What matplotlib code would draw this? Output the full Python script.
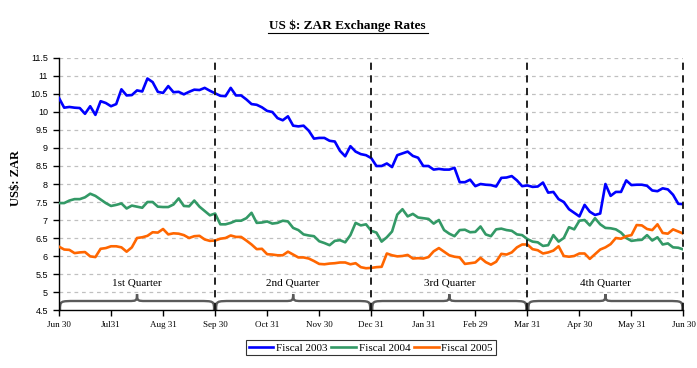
"""US $: ZAR exchange rates by fiscal year, one line per year, quarters braced."""
import matplotlib
matplotlib.use('Agg')
import matplotlib.pyplot as plt
import numpy as np
from matplotlib.path import Path
from matplotlib.patches import PathPatch

# Month tick labels along the fiscal year (Jun 30 .. Jun 30)
MONTH_LABELS = ['Jun 30', 'Jul31', 'Aug 31', 'Sep 30', 'Oct 31', 'Nov 30', 'Dec 31',
                'Jan 31', 'Feb 29', 'Mar 31', 'Apr 30', 'May 31', 'Jun 30']
QUARTER_LABELS = ['1st Quarter', '2nd Quarter', '3rd Quarter', '4th Quarter']
SERIES_NAMES = ['Fiscal 2003', 'Fiscal 2004', 'Fiscal 2005']

# Rates, 10 samples per month (121 points per year)
fiscal_2003 = [
    10.39, 10.12, 10.14, 10.12, 10.11, 9.95, 10.16, 9.92, 10.30, 10.25,
    10.16, 10.22, 10.63, 10.46, 10.47, 10.60, 10.57, 10.93, 10.83, 10.56,
    10.53, 10.72, 10.55, 10.56, 10.49, 10.56, 10.62, 10.61, 10.67, 10.59,
    10.52, 10.45, 10.44, 10.67, 10.46, 10.46, 10.35, 10.22, 10.20, 10.13,
    10.03, 10.00, 9.83, 9.77, 9.88, 9.62, 9.60, 9.62, 9.48, 9.26,
    9.28, 9.28, 9.20, 9.18, 8.92, 8.77, 9.05, 8.90, 8.83, 8.80,
    8.72, 8.50, 8.50, 8.57, 8.47, 8.80, 8.85, 8.90, 8.78, 8.73,
    8.50, 8.50, 8.40, 8.42, 8.40, 8.40, 8.45, 8.05, 8.05, 8.12,
    7.94, 8.00, 7.98, 7.97, 7.93, 8.17, 8.18, 8.22, 8.10, 7.94,
    7.96, 7.92, 7.93, 8.04, 7.76, 7.78, 7.58, 7.50, 7.30, 7.20,
    7.10, 7.42, 7.23, 7.14, 7.18, 8.00, 7.67, 7.78, 7.78, 8.10,
    7.97, 7.98, 7.98, 7.95, 7.82, 7.80, 7.88, 7.85, 7.70, 7.45,
    7.44,
]
fiscal_2004 = [
    7.47, 7.47, 7.54, 7.58, 7.58, 7.63, 7.73, 7.67, 7.57, 7.47,
    7.39, 7.42, 7.46, 7.32, 7.40, 7.37, 7.34, 7.50, 7.50, 7.37,
    7.36, 7.36, 7.43, 7.60, 7.39, 7.38, 7.54, 7.37, 7.25, 7.13,
    7.18, 6.88, 6.88, 6.92, 6.98, 6.98, 7.05, 7.20, 6.92, 6.93,
    6.96, 6.90, 6.92, 6.98, 6.96, 6.78, 6.72, 6.60, 6.57, 6.55,
    6.41, 6.36, 6.30, 6.42, 6.44, 6.38, 6.58, 6.92, 6.85, 6.88,
    6.70, 6.65, 6.40, 6.52, 6.68, 7.15, 7.30, 7.10, 7.17, 7.07,
    7.05, 7.03, 6.90, 7.00, 6.72, 6.62, 6.55, 6.72, 6.73, 6.66,
    6.67, 6.82, 6.60, 6.55, 6.74, 6.76, 6.72, 6.70, 6.60, 6.58,
    6.47, 6.40, 6.38, 6.28, 6.30, 6.58, 6.40, 6.50, 6.80, 6.74,
    6.98, 7.00, 6.85, 7.05, 6.88, 6.78, 6.77, 6.74, 6.65, 6.50,
    6.42, 6.44, 6.45, 6.58, 6.43, 6.52, 6.32, 6.35, 6.24, 6.23,
    6.18,
]
fiscal_2005 = [
    6.26, 6.18, 6.17, 6.08, 6.10, 6.11, 5.99, 5.97, 6.20, 6.22,
    6.27, 6.27, 6.24, 6.12, 6.24, 6.50, 6.52, 6.56, 6.66, 6.65,
    6.75, 6.60, 6.63, 6.62, 6.58, 6.50, 6.55, 6.56, 6.46, 6.42,
    6.43, 6.48, 6.50, 6.57, 6.53, 6.53, 6.43, 6.32, 6.19, 6.20,
    6.05, 6.04, 6.02, 6.02, 6.12, 6.04, 5.96, 5.96, 5.93, 5.86,
    5.78, 5.77, 5.79, 5.80, 5.82, 5.82, 5.77, 5.80, 5.69, 5.66,
    5.67, 5.69, 5.70, 6.07, 6.02, 5.99, 6.00, 6.03, 5.93, 5.94,
    5.93, 5.97, 6.13, 6.22, 6.12, 6.02, 5.98, 5.96, 5.78, 5.80,
    5.82, 5.95, 5.83, 5.76, 5.84, 6.06, 6.04, 6.10, 6.24, 6.32,
    6.32, 6.19, 6.16, 6.07, 6.10, 6.15, 6.27, 6.00, 5.98, 6.00,
    6.07, 6.07, 5.92, 6.05, 6.18, 6.24, 6.33, 6.50, 6.48, 6.55,
    6.58, 6.86, 6.85, 6.75, 6.72, 6.88, 6.64, 6.62, 6.74, 6.68,
    6.62,
]

COLORS = ['#0000ff', '#339966', '#ff6600']
SERIF = 'Liberation Serif'
SANS = 'Liberation Sans'


def brace_path(x0, x1, y_base, y_body, y_tip):
    """Curly brace lying on its back between x0 and x1, tip pointing up."""
    xm = (x0 + x1) / 2
    w = 0.3   # end curl width (months)
    t = 0.16  # tip curl half width
    verts = [
        (x0, y_base),
        (x0, y_body), (x0, y_body), (x0 + w, y_body),
        (xm - t, y_body),
        (xm - 0.02, y_body), (xm, y_body), (xm, y_tip),
        (xm, y_body), (xm + 0.02, y_body), (xm + t, y_body),
        (x1 - w, y_body),
        (x1, y_body), (x1, y_body), (x1, y_base),
    ]
    codes = [Path.MOVETO,
             Path.CURVE4, Path.CURVE4, Path.CURVE4,
             Path.LINETO,
             Path.CURVE4, Path.CURVE4, Path.CURVE4,
             Path.CURVE4, Path.CURVE4, Path.CURVE4,
             Path.LINETO,
             Path.CURVE4, Path.CURVE4, Path.CURVE4]
    return Path(verts, codes)


fig = plt.figure(figsize=(6.97, 3.68), dpi=100)
ax = fig.add_axes([0.0846, 0.1576, 0.8960, 0.6848])

n = len(fiscal_2003)
x = np.arange(n) / 10.0

# gridlines
yticks = np.arange(4.5, 11.51, 0.5)
for yv in yticks[1:]:
    ax.axhline(yv, color='#c0c0c0', lw=0.9, ls=(0, (3, 3)), zorder=1)

for name, vals, col in zip(SERIES_NAMES, [fiscal_2003, fiscal_2004, fiscal_2005], COLORS):
    ax.plot(x, vals, color=col, lw=1.9, label=name, zorder=3)

# quarter dividers
for q in range(1, 5):
    ax.axvline(3 * q, color='#111111', lw=1.3, ls=(0, (4, 3)), zorder=4, clip_on=False)

# braces + quarter labels
for q, lab in enumerate(QUARTER_LABELS):
    p = brace_path(3 * q + 0.02, 3 * q + 2.98, 4.5, 4.75, 4.94)
    ax.add_patch(PathPatch(p, facecolor='none', edgecolor='#5a5a5a', lw=1.7, zorder=2))
    ax.text(3 * q + 1.5, 5.25, lab, ha='center', va='center', fontsize=8, family=SERIF)

ax.set_xlim(0, 12)
ax.set_ylim(4.5, 11.5)
ax.set_xticks(range(13))
ax.set_xticklabels(MONTH_LABELS, fontsize=6.5, family=SERIF)
ax.set_yticks(yticks)
ax.set_yticklabels(['%g' % v for v in yticks], fontsize=6.5, family=SANS)
ax.tick_params(direction='out', length=4, width=1, pad=4)
for s in ('top', 'right'):
    ax.spines[s].set_visible(False)
for s in ('left', 'bottom'):
    ax.spines[s].set_linewidth(1.0)

ax.set_ylabel('US$: ZAR', fontsize=9, family=SERIF, fontweight='bold')
ax.yaxis.set_label_coords(-0.059, 0.524)

fig.text(0.498, 0.930, 'US $: ZAR Exchange Rates', ha='center', va='center',
         fontsize=9.5, family=SERIF, fontweight='bold')
# underline under the title
fig.add_artist(plt.Line2D([0.384, 0.614], [0.909, 0.909], color='black', lw=0.8,
                          transform=fig.transFigure))

leg = fig.legend(loc='upper center', bbox_to_anchor=(0.532, 0.076), ncol=3,
                 prop={'family': SERIF, 'size': 8}, frameon=True,
                 fancybox=False, edgecolor='black', handlelength=2.2,
                 handletextpad=0.25, columnspacing=0.35, borderpad=0.25,
                 borderaxespad=0)
leg.get_frame().set_linewidth(0.8)

fig.savefig('out.png', dpi=100, facecolor='white')
